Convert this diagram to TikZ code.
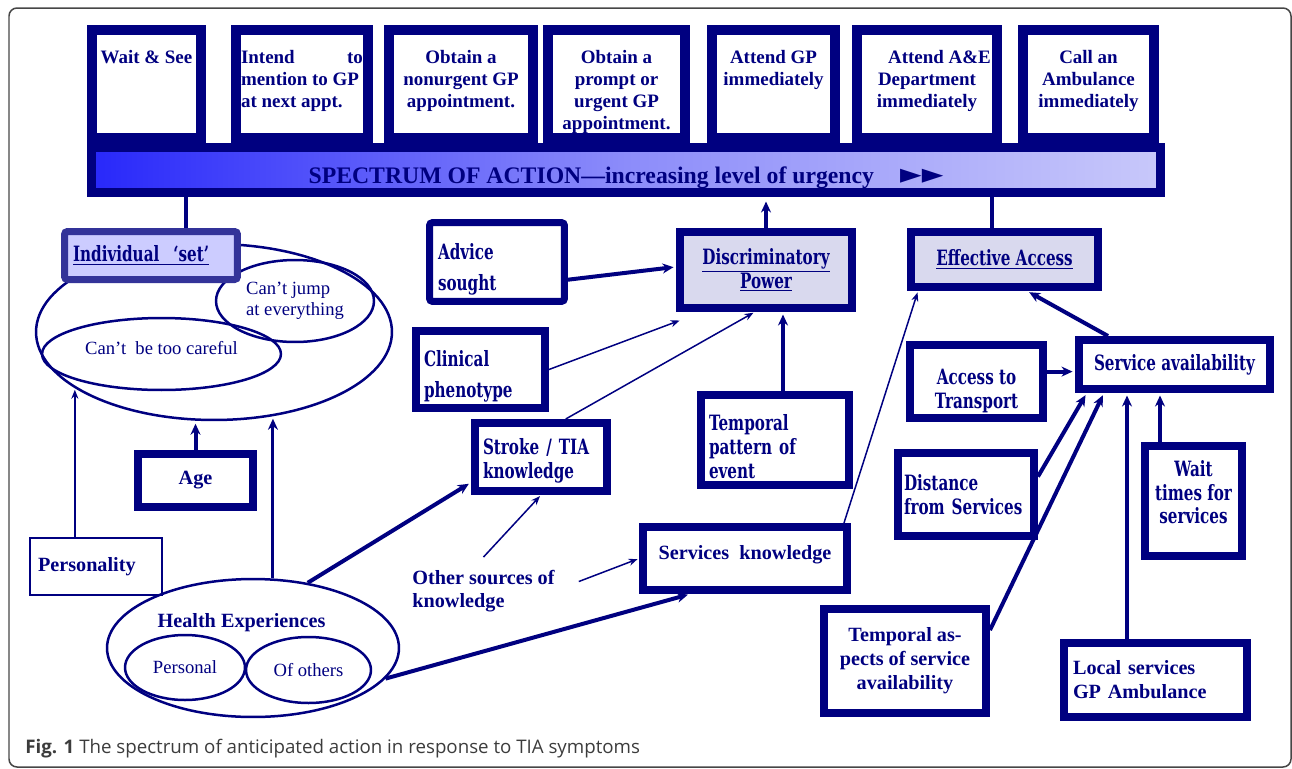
\documentclass[tikz,border=0pt]{standalone}
\usepackage{fontspec}
\setmainfont{Liberation Serif}
\newfontfamily\censerif[FakeStretch=0.72]{DejaVu Serif}
\newfontfamily\capsans{Open Sans}
\newfontfamily\symsans{DejaVu Sans}
\usetikzlibrary{positioning, shapes.geometric, arrows.meta}

\definecolor{navy}{RGB}{0,0,128}
\definecolor{setline}{RGB}{51,51,153}
\definecolor{setfill}{RGB}{204,204,255}
\definecolor{keyfill}{RGB}{217,217,238}
\definecolor{barleft}{RGB}{40,40,250}
\definecolor{barmid}{RGB}{140,140,250}
\definecolor{barright}{RGB}{200,200,250}
\definecolor{framegray}{RGB}{70,70,70}
\definecolor{capgray}{RGB}{60,60,60}

\tikzset{
  actbox/.style={draw=navy, line width=0.2cm, fill=white, inner sep=0pt, text=navy,
    font=\fontsize{10.8}{12.5}\selectfont\bfseries},
  cenbox/.style={draw=navy, line width=0.16cm, fill=white, text=navy,
    font=\fontsize{12}{13.6}\selectfont\censerif\bfseries},
  tmsbox/.style={draw=navy, line width=0.16cm, fill=white, text=navy,
    font=\fontsize{11.5}{13.6}\selectfont\bfseries},
  oval/.style={ellipse, draw=navy, line width=0.05cm, inner sep=0pt, text=navy,
    font=\fontsize{10.6}{12}\selectfont},
  thk/.style={draw=navy, line width=0.08cm},
  thn/.style={draw=navy, line width=0.03cm},
  thkarr/.style={thk, shorten >=0.05cm, -{Stealth[length=0.22cm, width=0.2cm]}},
  thnarr/.style={thn, shorten >=0.03cm, -{Stealth[length=0.18cm, width=0.14cm]}},
}

\begin{document}
\begin{tikzpicture}[x=0.02cm, y=-0.02cm]
\useasboundingbox (0,0) rectangle (1292,768);
\draw[framegray, line width=0.03cm, rounded corners=0.16cm] (9,8) rectangle (1291,767);

% spectrum of action
\node[actbox, minimum width=2.18cm, minimum height=2.16cm] (wait) at (146.5,84)
  {\parbox[c][2.16cm][t]{1.98cm}{\centering\vspace*{0.4cm}Wait \& See}};
\node[actbox, minimum width=2.64cm, minimum height=2.16cm] (mention) at (302,84)
  {\parbox[c][2.16cm][t]{2.44cm}{\raggedright\vspace*{0.4cm}Intend\hfill to\\mention to GP\\at next appt.}};
\node[actbox, minimum width=2.88cm, minimum height=2.16cm] (nonurgent) at (461,84)
  {\parbox[c][2.16cm][t]{2.68cm}{\centering\vspace*{0.4cm}Obtain a\\nonurgent GP\\appointment.}};
\node[actbox, minimum width=2.74cm, minimum height=2.16cm] (prompt) at (616.5,84)
  {\parbox[c][2.16cm][t]{2.54cm}{\centering\vspace*{0.4cm}Obtain a\\prompt or\\urgent GP\\appointment.}};
\node[actbox, minimum width=2.46cm, minimum height=2.16cm] (attendgp) at (773.5,84)
  {\parbox[c][2.16cm][t]{2.26cm}{\centering\vspace*{0.4cm}Attend GP\\immediately}};
\node[actbox, minimum width=2.80cm, minimum height=2.16cm] (attendae) at (927,84)
  {\parbox[c][2.16cm][t]{2.60cm}{\centering\vspace*{0.4cm}\hspace*{0.5cm}Attend A\&E\\Department\\immediately}};
\node[actbox, minimum width=2.62cm, minimum height=2.16cm] (ambulance) at (1088.5,84)
  {\parbox[c][2.16cm][t]{2.42cm}{\centering\vspace*{0.4cm}Call an\\Ambulance\\immediately}};

\node[draw=navy, line width=0.18cm, left color=barleft, right color=barright, middle color=barmid,
  minimum width=21.38cm, minimum height=0.9cm, inner sep=0pt, text=navy,
  font=\fontsize{13.5}{15}\selectfont\bfseries, text height=0.52cm, text depth=0cm] (spectrum) at (626,170)
  {SPECTRUM OF ACTION—increasing level of urgency\hspace{1.1em}{\symsans\fontsize{16}{16}\selectfont ►►}};

% individual set
\node[oval, minimum width=7.12cm, minimum height=3.52cm] (setell) at (214,332) {};
\node[oval, minimum width=3.16cm, minimum height=1.64cm, align=left] (jump) at (295,301) {Can’t jump\\at everything};
\node[oval, minimum width=4.78cm, minimum height=1.44cm, text height=0.2cm, text depth=0.2cm] (careful) at (161.5,354) {Can’t~ be too careful};
\node[draw=setline, fill=setfill, line width=0.14cm, rounded corners=0.06cm, minimum height=0.96cm,
  text width=3.12cm, inner xsep=0.17cm, align=left, text=navy,
  font=\fontsize{12}{13.6}\selectfont\censerif\bfseries] (indset) at (151,255.5) {\underline{Individual~~‘set’}};

\node[tmsbox, minimum width=2.30cm, minimum height=1.06cm] (age) at (195.5,480.5) {Age};
\node[tmsbox, line width=0.04cm, minimum height=1.14cm, text width=2.32cm, inner xsep=0.16cm, align=left] (personality) at (96,566.5) {Personality};

% health experiences
\node[oval, minimum width=5.84cm, minimum height=2.76cm] (health) at (253,648) {};
\node[oval, minimum width=2.40cm, minimum height=1.30cm] (personal) at (185,667.5) {Personal};
\node[oval, minimum width=2.50cm, minimum height=1.32cm] (others) at (308.5,670) {Of others};
\node[text=navy, font=\fontsize{11.5}{13.6}\selectfont\bfseries] (healthexp) at (241.5,623) {Health Experiences};

% discriminatory power
\node[cenbox, line width=0.14cm, rounded corners=0.06cm, minimum height=1.34cm, text width=2.36cm, inner xsep=0.17cm, align=left] (advice) at (497,262) {\rule{0pt}{0.63cm}Advice\\[4pt]sought};
\node[cenbox, fill=keyfill, minimum width=3.44cm, minimum height=1.52cm, align=center] (disc) at (766,270) {\underline{Discriminatory}\\\underline{Power}};
\node[cenbox, minimum height=1.46cm, text width=2.26cm, inner xsep=0.16cm, align=left] (clinical) at (480.5,369.5) {\rule{0pt}{0.59cm}Clinical\\[4pt]phenotype};
\node[cenbox, minimum height=1.36cm, text width=2.32cm, inner xsep=0.16cm, align=left] (stroke) at (541,457) {\rule{0pt}{0.47cm}Stroke / TIA\\knowledge};
\node[cenbox, minimum height=1.68cm, text width=2.64cm, inner xsep=0.16cm, align=left] (temppat) at (775,440) {\rule{0pt}{0.59cm}Temporal\\pattern of\\event};
\node[align=left, text=navy, font=\fontsize{11.5}{13}\selectfont\bfseries] (other) at (483.5,591.5) {Other sources of\\knowledge};
\node[tmsbox, minimum width=4.08cm, minimum height=1.26cm] (servknow) at (745,558.5) {Services~ knowledge\rule[-0.24cm]{0pt}{0.24cm}};

% effective access
\node[cenbox, fill=keyfill, minimum width=3.74cm, minimum height=1.10cm] (eff) at (1004.5,259.5) {\underline{Effective Access}};
\node[cenbox, minimum width=3.82cm, minimum height=0.98cm] (servav) at (1174.5,364.5) {Service availability};
\node[cenbox, minimum width=2.66cm, minimum height=1.22cm, align=center] (transport) at (976.5,381.5) {\rule{0pt}{0.67cm}Access to\\Transport};
\node[cenbox, minimum height=1.66cm, text width=2.48cm, inner xsep=0.12cm, align=left] (distance) at (966,494.5) {Distance\\from Services};
\node[cenbox, minimum width=1.94cm, minimum height=2.20cm, align=center] (waittimes) at (1193.5,501) {Wait\\times for\\services\rule[-0.36cm]{0pt}{0.36cm}};
\node[tmsbox, minimum width=3.24cm, minimum height=2.08cm, align=center] (tempasp) at (905,661) {Temporal as-\\pects of service\\availability};
\node[tmsbox, minimum height=1.48cm, text width=3.30cm, inner xsep=0.18cm, align=left] (localserv) at (1155.5,680) {Local services\\GP Ambulance};

\node[anchor=base west, inner sep=0pt, text=capgray, font=\fontsize{10.65}{12}\selectfont\capsans] (caption) at (25,753)
  {\textbf{Fig. 1} The spectrum of anticipated action in response to TIA symptoms};

% links
\draw[thk] ([xshift=0.7cm]indset.north) -- ([xshift=0.7cm]indset.north |- spectrum.south);
\draw[thkarr, shorten >=0.09cm] (disc.north) -- (disc.north |- spectrum.south);
\draw[thk] ([xshift=-0.25cm]eff.north) -- ([xshift=-0.25cm]eff.north |- spectrum.south);

\draw[thnarr] (personality.north -| setell.-158) -- (setell.-158);
\draw[thkarr] (age.north) -- (age.north |- setell.south);
\draw[thkarr, line width=0.06cm] (health.74) -- (health.74 |- setell.-55);
\draw[thkarr] (health.50) -- (stroke.200);
\draw[thkarr] (health.-13) -- (servknow.-147);

\draw[thnarr] (stroke.57) -- (disc.-105);
\draw[thnarr] (clinical.east) -- ([shift={(0.1cm,-0.16cm)}]disc.south west);
\draw[thkarr] (advice.-14) -- (disc.178);
\draw[thkarr] ([xshift=0.16cm]temppat.north) -- ([xshift=0.16cm]temppat.north |- disc.south);
\draw[thnarr] ([yshift=0.15cm]other.north) -- (stroke.south);
\draw[thnarr] ([shift={(0.36cm,-0.34cm)}]other.north east) -- (servknow.west);

\draw[thnarr] ([xshift=-0.14cm]servknow.north east) -- ([xshift=0.22cm]eff.south west);
\draw[thkarr] ([xshift=-1.33cm]servav.north) -- ([xshift=0.45cm]eff.south);
\draw[thkarr] (transport.8) -- (transport.8 -| servav.west);
\draw[thkarr] (distance.14) -- (servav.-162);
\draw[thkarr] (tempasp.20) -- (servav.-158);
\draw[thkarr] ([xshift=-0.57cm]localserv.north) -- ([xshift=-0.57cm]localserv.north |- servav.south);
\draw[thkarr] ([xshift=-0.67cm]waittimes.north) -- ([xshift=-0.67cm]waittimes.north |- servav.south);
\end{tikzpicture}
\end{document}
